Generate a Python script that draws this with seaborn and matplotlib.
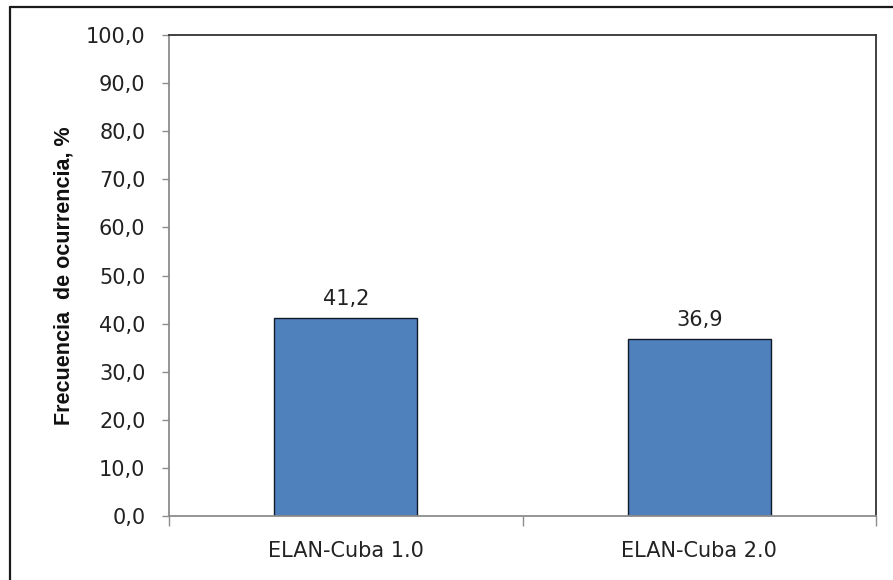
import matplotlib
matplotlib.use("Agg")
import matplotlib.pyplot as plt
from matplotlib.lines import Line2D
from matplotlib.ticker import FuncFormatter, FixedLocator, MultipleLocator
import seaborn as sns
import pandas as pd

# Data
categories = ["ELAN-Cuba 1.0", "ELAN-Cuba 2.0"]
frequencies = [41.2, 36.9]
y_label = "Frecuencia  de ocurrencia, %"

df = pd.DataFrame({"version": categories, "freq": frequencies})

sns.set_theme(style="white")
plt.rcParams["font.family"] = ["DejaVu Sans"]

fig = plt.figure(figsize=(8.93, 5.80), dpi=100)
ax = fig.add_axes([169 / 893, 1 - 516 / 580, (876 - 169) / 893, (516 - 35) / 580])

sns.barplot(data=df, x="version", y="freq", ax=ax, color="#4F81BD",
            saturation=1, width=0.405, edgecolor="#111827", linewidth=1.0)

ax.set_xlim(-0.5, 1.5)
ax.set_ylim(0, 100)
ax.yaxis.set_major_locator(MultipleLocator(10))

comma = lambda v: f"{v:.1f}".replace(".", ",")
ax.yaxis.set_major_formatter(FuncFormatter(lambda v, p: comma(v)))

# Value labels above bars
for cont in ax.containers:
    ax.bar_label(cont, labels=[comma(v) for v in frequencies], padding=6,
                 fontsize=15, color="#222222")

# Axis styling
for side in ["left", "bottom"]:
    ax.spines[side].set_color("#8c8c8c")
    ax.spines[side].set_linewidth(1.3)
for side in ["top", "right"]:
    ax.spines[side].set_color("#333333")
    ax.spines[side].set_linewidth(1.3)

ax.tick_params(axis="y", which="major", direction="out", length=5, width=1,
               color="#8c8c8c", labelsize=15, labelcolor="#222222", pad=12, left=True)
ax.tick_params(axis="x", which="major", length=0, labelsize=15,
               labelcolor="#222222", pad=18, bottom=True)
ax.xaxis.set_minor_locator(FixedLocator([-0.5, 0.5, 1.5]))
ax.tick_params(axis="x", which="minor", direction="out", length=7, width=1,
               color="#8c8c8c", bottom=True)

ax.set_xlabel("")
ax.set_ylabel(y_label, fontsize=15.5, fontweight="bold", family="Liberation Sans",
              color="#111111", labelpad=8)

# Chart area frame
fig.add_artist(Line2D([10 / 893, 10 / 893], [0, 1 - 7 / 580], transform=fig.transFigure,
                      color="#1a1a1a", linewidth=1.6))
fig.add_artist(Line2D([10 / 893, 1], [1 - 7 / 580, 1 - 7 / 580], transform=fig.transFigure,
                      color="#1a1a1a", linewidth=1.6))

fig.savefig("out.png", dpi=100)
